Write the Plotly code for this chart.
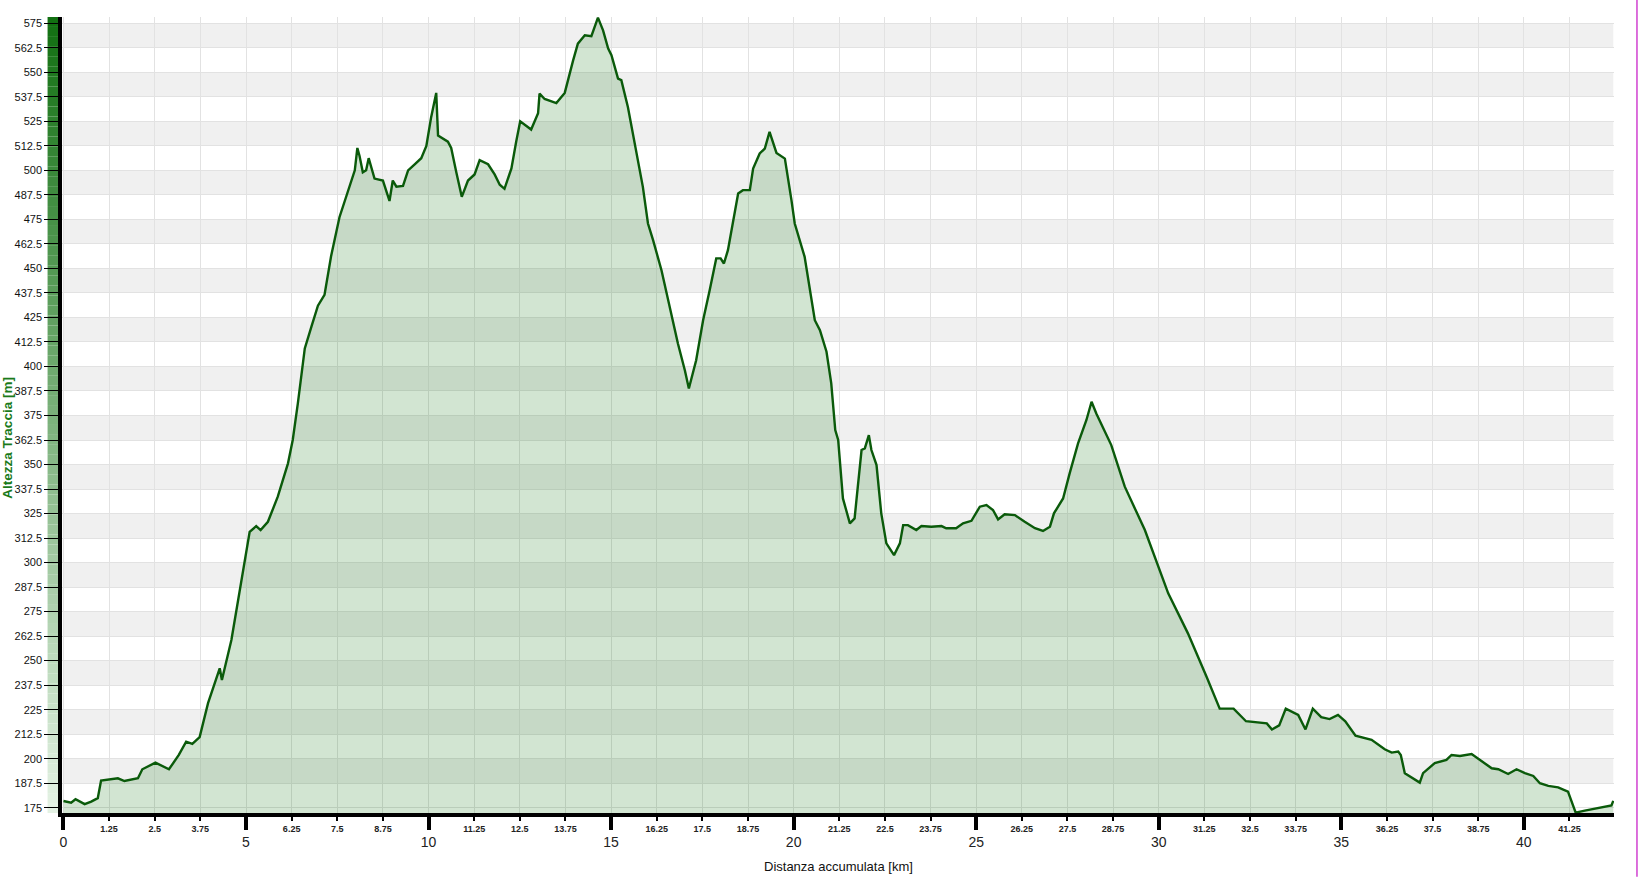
import plotly.graph_objects as go

# ------------------------------------------------------------------ #
# Data: elevation profile (km, m)
# ------------------------------------------------------------------ #
DIST_KM = [
    0.00, 0.21, 0.33, 0.58, 0.76, 0.94, 1.03, 1.49, 1.67, 2.04, 2.16, 2.52, 2.89,
    3.16, 3.36, 3.53, 3.73, 3.96, 4.28, 4.34, 4.60, 4.78, 4.92, 5.10, 5.28, 5.40,
    5.60, 5.87, 6.15, 6.28, 6.42, 6.61, 6.79, 6.97, 7.15, 7.33, 7.56, 7.79, 7.98,
    8.05, 8.11, 8.20, 8.29, 8.36, 8.43, 8.52, 8.75, 8.84, 8.93, 9.02, 9.12, 9.30,
    9.44, 9.62, 9.80, 9.94, 10.07, 10.21, 10.26, 10.53, 10.62, 10.76, 10.91, 11.08,
    11.26, 11.40, 11.63, 11.81, 11.95, 12.08, 12.27, 12.40, 12.51, 12.81, 13.00,
    13.04, 13.18, 13.50, 13.73, 13.96, 14.09, 14.28, 14.46, 14.64, 14.78, 14.92,
    15.01, 15.19, 15.28, 15.46, 15.65, 15.87, 16.01, 16.15, 16.38, 16.61, 16.83,
    17.02, 17.13, 17.33, 17.52, 17.70, 17.88, 18.00, 18.09, 18.20, 18.34, 18.48,
    18.61, 18.80, 18.89, 19.07, 19.21, 19.34, 19.53, 19.76, 19.94, 20.03, 20.30,
    20.58, 20.72, 20.90, 21.03, 21.14, 21.22, 21.35, 21.54, 21.67, 21.72, 21.86,
    21.95, 22.06, 22.13, 22.27, 22.40, 22.54, 22.75, 22.91, 23.00, 23.13, 23.36,
    23.50, 23.77, 24.05, 24.18, 24.45, 24.64, 24.87, 25.10, 25.28, 25.46, 25.60,
    25.78, 26.06, 26.33, 26.61, 26.83, 27.02, 27.13, 27.38, 27.56, 27.79, 28.02,
    28.16, 28.29, 28.70, 29.07, 29.62, 30.26, 30.80, 31.31, 31.67, 32.05, 32.39,
    32.96, 33.10, 33.30, 33.48, 33.82, 34.02, 34.22, 34.45, 34.68, 34.91, 35.11,
    35.39, 35.83, 36.19, 36.38, 36.56, 36.63, 36.74, 37.15, 37.24, 37.56, 37.88,
    38.02, 38.25, 38.57, 38.84, 39.12, 39.30, 39.57, 39.80, 40.03, 40.26, 40.44,
    40.67, 40.94, 41.21, 41.42, 41.67, 42.03, 42.40, 42.45,
]
ALT_M = [
    178.4, 177.6, 179.3, 176.8, 178.1, 179.9, 188.8, 190.0, 188.6, 190.0, 194.6, 198.0, 194.6,
    201.9, 208.7, 207.5, 211.0, 228.3, 246.1, 240.1, 260.5, 280.9, 294.5, 315.7, 318.6, 316.6,
    320.8, 333.6, 350.6, 362.5, 381.2, 409.2, 420.2, 431.0, 436.5, 456.2, 476.1, 489.6, 500.0,
    511.4, 507.3, 499.0, 500.0, 506.2, 501.0, 495.8, 494.8, 489.6, 484.4, 494.8, 491.7, 492.1,
    500.0, 503.1, 506.2, 512.5, 527.0, 539.5, 517.7, 514.6, 511.4, 499.0, 486.5, 494.8,
    497.9, 505.2, 503.1, 497.9, 492.7, 490.6, 501.0, 514.6, 525.0, 520.8, 529.1,
    539.1, 536.4, 534.3, 539.5, 556.1, 564.6, 568.9, 568.4, 577.9, 571.4, 562.1,
    558.7, 546.8, 546.0, 532.3, 513.7, 491.6, 472.9, 464.4, 449.1, 430.4, 411.7,
    398.1, 388.8, 403.2, 423.6, 438.9, 455.1, 455.1, 452.5, 459.3, 474.6, 488.2,
    489.9, 489.9, 500.9, 508.6, 511.1, 519.6, 508.9, 506.0, 484.8, 472.9, 456.0,
    423.6, 418.5, 407.5, 391.4, 367.6, 362.5, 332.7, 320.0, 322.5, 331.9, 357.4,
    358.2, 365.0, 357.4, 349.7, 325.1, 309.8, 303.8, 309.8, 319.1, 319.1, 316.6,
    318.6, 318.3, 318.6, 317.5, 317.5, 320.0, 321.3, 328.5, 329.3, 326.8, 322.0,
    324.6, 324.2, 320.8, 317.5, 316.1, 318.3, 325.1, 332.7, 345.5, 360.8, 372.7,
    382.0, 376.0, 359.9, 338.7, 316.6, 284.3, 263.9, 241.8, 225.5, 225.5, 219.1,
    218.0, 214.9, 217.0, 225.5, 222.3, 214.9, 225.5, 221.2, 220.2, 222.3, 219.1,
    211.7, 209.6, 204.8, 203.1, 203.6, 201.9, 192.6, 187.8, 192.6, 197.7, 199.4,
    201.9, 201.4, 202.4, 199.0, 195.1, 194.6, 192.2, 194.6, 192.6, 191.2, 187.5,
    186.1, 185.4, 183.2, 172.5, 173.5, 174.7, 176.1, 178.5,
]

Y_TICKS = [175 + 12.5 * i for i in range(33)]          # 175 .. 575
X_MAJOR = [0, 5, 10, 15, 20, 25, 30, 35, 40]
X_MINOR = [1.25 * i for i in range(1, 34) if (1.25 * i) % 5 != 0]

# ------------------------------------------------------------------ #
# Style tokens
# ------------------------------------------------------------------ #
FONT = "Liberation Sans, Arial, sans-serif"
LINE_GREEN = "#0a5a0a"
FILL_GREEN = "rgba(30,125,30,0.20)"
BAND = "#f0f0f0"
GRID = "#e2e2e2"
X_RANGE = [-0.04, 42.47]
Y_RANGE = [172.3, 578.2]

fig = go.Figure()
fig.add_trace(go.Scatter(
    x=DIST_KM, y=ALT_M, mode="lines", fill="tozeroy",
    fillcolor=FILL_GREEN, line=dict(color=LINE_GREEN, width=2.4),
    showlegend=False, hoverinfo="x+y",
))
# invisible trace to carry the minor-label axis
fig.add_trace(go.Scatter(x=[X_RANGE[0]], y=[Y_RANGE[0]], xaxis="x2",
                         mode="markers", marker=dict(opacity=0),
                         showlegend=False, hoverinfo="skip"))

shapes = []
# alternating horizontal bands
for lo in Y_TICKS[1:-1:2]:
    shapes.append(dict(type="rect", xref="x", yref="y", x0=0, x1=DIST_KM[-1],
                       y0=lo, y1=lo + 12.5, fillcolor=BAND, line=dict(width=0),
                       layer="below"))
# green gradient bar left of the y-axis
n = 80
top, bot = (18, 112, 18), (228, 242, 228)
for i in range(n):
    t = i / (n - 1)
    c = tuple(round(top[k] + (bot[k] - top[k]) * t) for k in range(3))
    shapes.append(dict(type="rect", xref="paper", yref="paper",
                       x0=-0.0093, x1=-0.0017, y0=1 - (i + 1) / n, y1=1 - i / n,
                       fillcolor=f"rgb{c}", line=dict(width=0), layer="below"))
# magenta frame line at the right edge
shapes.append(dict(type="line", xref="paper", yref="paper", x0=1.0148, x1=1.0148,
                   y0=-0.08, y1=1.03, line=dict(color="#d040d0", width=1.5)))

fig.update_layout(
    width=1638, height=877,
    margin=dict(l=62, r=24, t=17, b=64),
    paper_bgcolor="white", plot_bgcolor="white",
    font=dict(family=FONT, color="#111"),
    shapes=shapes,
    xaxis=dict(
        range=X_RANGE, tickmode="array", tickvals=X_MAJOR,
        ticktext=[str(v) for v in X_MAJOR],
        ticks="outside", ticklen=13, tickwidth=4, tickcolor="black",
        tickfont=dict(size=14, color="#222"),
        showline=True, linewidth=4, linecolor="black",
        showgrid=True, gridcolor=GRID, gridwidth=1, zeroline=False,
        minor=dict(tickmode="array", tickvals=X_MINOR, showgrid=True,
                   gridcolor=GRID, gridwidth=1, ticks=""),
    ),
    xaxis2=dict(
        range=X_RANGE, overlaying="x", side="bottom", anchor="y",
        tickmode="array", tickvals=X_MINOR,
        ticktext=[f"{v:g}" for v in X_MINOR],
        ticks="outside", ticklen=7, tickwidth=2, tickcolor="black",
        tickfont=dict(size=9, color="#222", family="Liberation Sans, Arial", weight="bold"),
        showline=False, showgrid=False, zeroline=False,
    ),
    yaxis=dict(
        range=Y_RANGE, tickmode="array", tickvals=Y_TICKS,
        ticktext=[f"{v:g}" for v in Y_TICKS],
        ticks="outside", ticklen=14, tickwidth=1, tickcolor="black",
        tickfont=dict(size=11, color="#111"),
        showline=True, linewidth=3.5, linecolor="black",
        showgrid=True, gridcolor=GRID, gridwidth=1, zeroline=False,
    ),
    annotations=[
        dict(text="<b>Altezza Traccia [m]</b>", textangle=-90, xref="paper", yref="paper",
             x=-0.0352, y=0.472, xanchor="center", yanchor="middle", showarrow=False,
             font=dict(size=13.5, color="#1a7a1a", family=FONT)),
        dict(text="Distanza accumulata [km]", xref="paper", yref="paper",
             x=0.5, y=-0.0676, xanchor="center", yanchor="middle", showarrow=False,
             font=dict(size=13, color="#111", family=FONT)),
    ],
)

fig.write_html("out.html", config={"displayModeBar": False},
               post_script="document.body.style.margin='0';document.body.style.overflow='hidden';")
